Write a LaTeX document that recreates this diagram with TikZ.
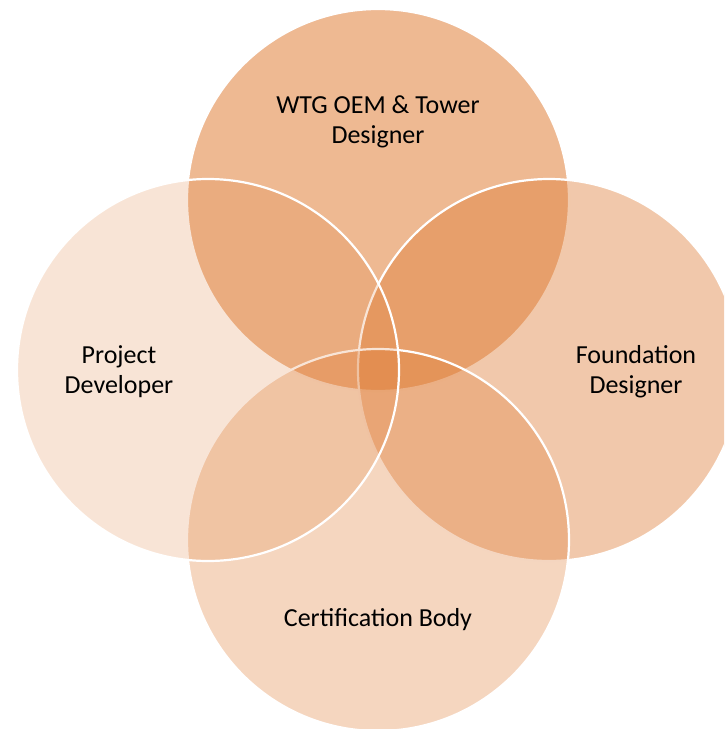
\documentclass[tikz,border=0pt]{standalone}
\usepackage{fontspec}
\setmainfont{Carlito}
\definecolor{vennorange}{RGB}{222,122,50}
\begin{document}
\begin{tikzpicture}[x=1pt,y=-1pt,
  venn/.style={circle, inner sep=0pt, minimum size=382pt, draw=white,
               line width=2.2pt, fill=vennorange},
  lbl/.style={font=\fontsize{26}{30}\selectfont, align=center,
              text=black, anchor=base}]
\useasboundingbox (0,0) rectangle (724,729);
\clip (0,0) rectangle (724,729);
% four overlapping sets, drawn clockwise from the top
\node[venn, fill opacity=0.53] (oem)  at (378,200) {};
\node[venn, fill opacity=0.41] (fdn)  at (549,370) {};
\node[venn, fill opacity=0.31] (cert) at (378,540) {};
\node[venn, fill opacity=0.20] (dev)  at (208,370) {};
% set labels (anchor on the baseline of the last line)
\node[lbl] (oemlbl)  at (378,143) {WTG OEM \& Tower\\Designer};
\node[lbl] (fdnlbl)  at (636,393) {Foundation\\Designer};
\node[lbl] (certlbl) at (378,626) {Certification Body};
\node[lbl] (devlbl)  at (119,393) {Project\\Developer};
\end{tikzpicture}
\end{document}
